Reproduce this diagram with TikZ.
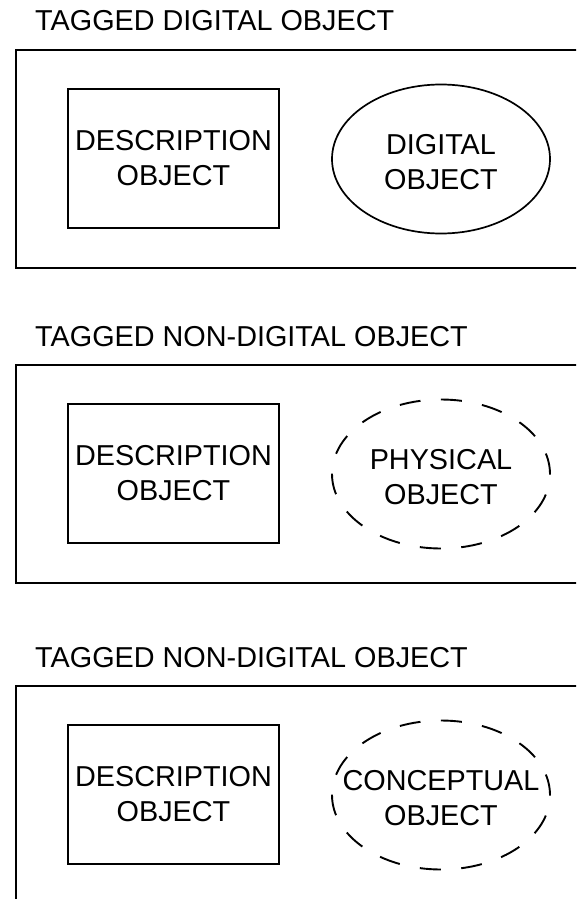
\documentclass[tikz,border=0pt]{standalone}
\usepackage{fontspec}
\setmainfont{Liberation Sans}
\usetikzlibrary{shapes.geometric}
\tikzset{
	lbl/.style={font=\fontsize{28.8}{35}\selectfont,align=center,inner sep=0pt},
	descbox/.style={draw,line width=1.9pt,minimum width=211pt,minimum height=139pt},
	objshape/.style={draw,ellipse,line width=1.7pt,minimum width=218pt,minimum height=149pt,inner sep=0pt},
	notdigital/.style={line width=1.9pt,dash pattern=on 21pt off 20.5pt},
	digital/.style={solid}
}
\begin{document}
\begin{tikzpicture}[x=1pt,y=-1pt]
	\useasboundingbox (0,0) rectangle (576,899);
	\clip (0,0) rectangle (576,899);
	\foreach \dy/\kind/\what/\look [count=\i] in {0/DIGITAL/DIGITAL/digital, 315/NON-DIGITAL/PHYSICAL/notdigital, 636/NON-DIGITAL/CONCEPTUAL/notdigital}{
	% title and frame
	\node[lbl,anchor=base west] (title\i) at (35,\dy+31) {TAGGED \kind{} OBJECT};
	\draw[line width=2.1pt] (16,\dy+50) rectangle (600,\dy+268);
	% description object
	\node[descbox,lbl] (desc\i) at (173.5,\dy+158.5) {DESCRIPTION\\OBJECT};
	% digital / physical / conceptual object
	\node[objshape,\look] (obj\i) at (441,\dy+159) {};
	\node[lbl] (objtxt\i) at ([yshift=-3pt]obj\i.center) {\what\\OBJECT};
	}
\end{tikzpicture}
\end{document}
